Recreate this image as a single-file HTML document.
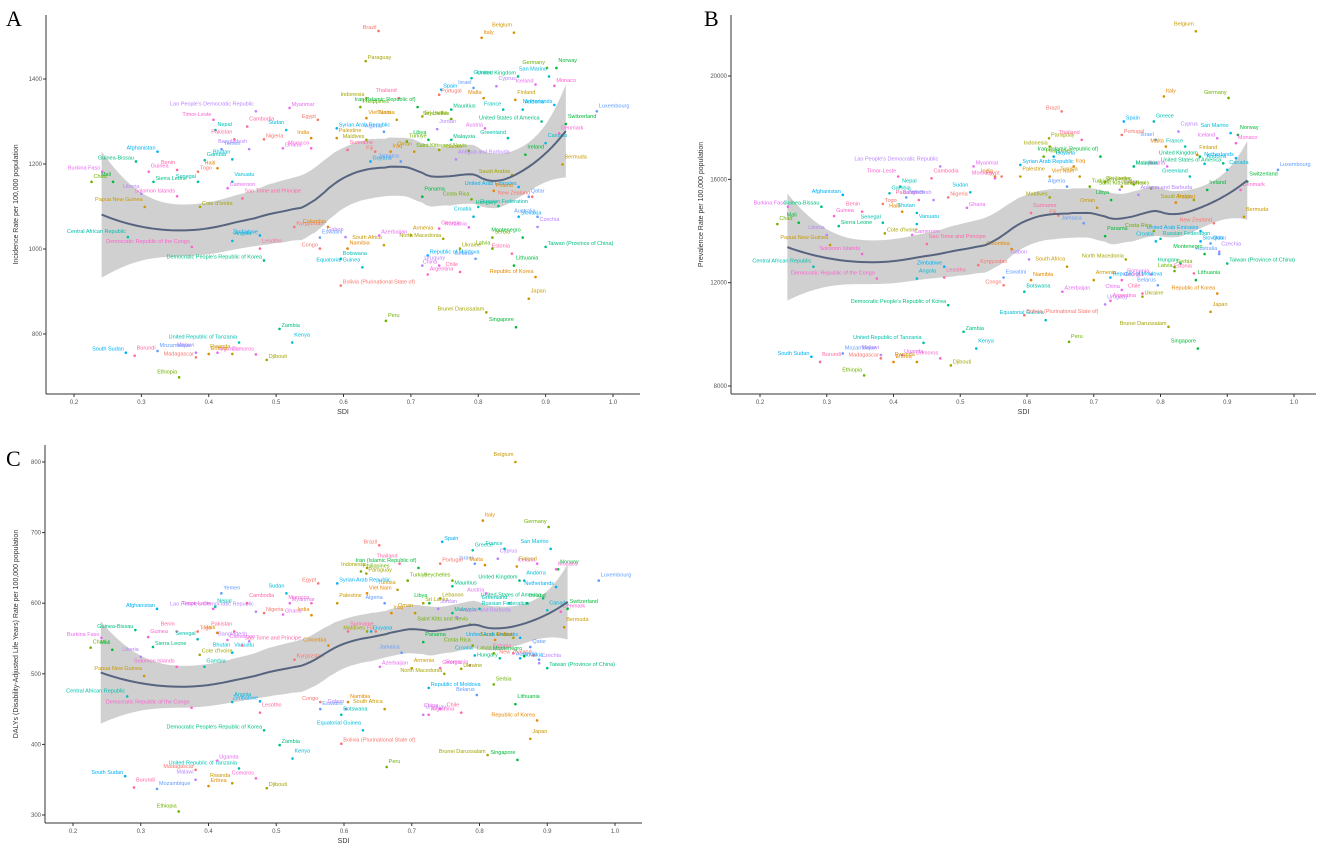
<!DOCTYPE html>
<html><head><meta charset="utf-8"><style>
body{margin:0;background:#fff;}
svg{display:block;font-family:"Liberation Sans",sans-serif;}
</style></head><body>
<svg id="chart" width="1325" height="855" viewBox="0 0 1325 855" xmlns="http://www.w3.org/2000/svg"></svg>
<script>
const countries=["Brazil","Italy","Belgium","Paraguay","Germany","Norway","United Kingdom","Greece","San Marino","Spain","Israel","Cyprus","Iceland","Monaco","Thailand","Portugal","Malta","Finland","Indonesia","Philippines","Iran (Islamic Republic of)","Mauritius","France","Andorra","Netherlands","Luxembourg","Lao People's Democratic Republic","Myanmar","Timor-Leste","Cambodia","Egypt","Viet Nam","Tunisia","Sri Lanka","Seychelles","Switzerland","United States of America","Nepal","Sudan","Syrian Arab Republic","Algeria","Jordan","Austria","Denmark","Pakistan","Nigeria","India","Palestine","Maldives","Turkiye","Libya","Malaysia","Greenland","Canada","Afghanistan","Yemen","Bangladesh","Ghana","Morocco","Suriname","Fiji","Iraq","Oman","Lebanon","Saint Kitts and Nevis","Ireland","Guinea-Bissau","Gambia","Bhutan","Guyana","Jamaica","Antigua and Barbuda","Burkina Faso","Guinea","Benin","Togo","Haiti","Bermuda","Saudi Arabia","Chad","Mali","Sierra Leone","Senegal","Vanuatu","United Arab Emirates","Qatar","Liberia","Cameroon","Solomon Islands","Sao Tome and Principe","New Zealand","Poland","Papua New Guinea","Cote d'Ivoire","Costa Rica","Panama","Hungary","Russian Federation","Croatia","Slovakia","Australia","Czechia","Romania","Georgia","Estonia","Kyrgyzstan","Colombia","Armenia","North Macedonia","Serbia","Montenegro","Taiwan (Province of China)","Central African Republic","Angola","Zimbabwe","Eswatini","Gabon","Azerbaijan","Democratic Republic of the Congo","Lesotho","Congo","Namibia","South Africa","Ukraine","Latvia","Lithuania","Democratic People's Republic of Korea","Botswana","Equatorial Guinea","Republic of Moldova","Belarus","Uruguay","China","Argentina","Chile","Bolivia (Plurinational State of)","Republic of Korea","Japan","Brunei Darussalam","Peru","Singapore","Zambia","United Republic of Tanzania","Kenya","South Sudan","Mozambique","Malawi","Uganda","Comoros","Burundi","Madagascar","Eritrea","Rwanda","Djibouti","Ethiopia"];
const sdi=[0.652,0.805,0.853,0.633,0.902,0.916,0.859,0.79,0.905,0.745,0.793,0.827,0.885,0.913,0.682,0.742,0.808,0.855,0.634,0.625,0.71,0.76,0.837,0.866,0.913,0.976,0.47,0.52,0.407,0.457,0.562,0.634,0.679,0.717,0.76,0.93,0.894,0.41,0.515,0.59,0.66,0.739,0.81,0.92,0.438,0.482,0.552,0.59,0.634,0.694,0.726,0.76,0.844,0.9,0.324,0.419,0.46,0.51,0.552,0.606,0.647,0.67,0.705,0.742,0.786,0.87,0.292,0.394,0.435,0.64,0.685,0.767,0.242,0.311,0.353,0.384,0.413,0.925,0.85,0.226,0.258,0.318,0.384,0.435,0.86,0.875,0.3,0.428,0.353,0.45,0.88,0.823,0.305,0.387,0.79,0.717,0.83,0.8,0.793,0.86,0.888,0.888,0.786,0.742,0.85,0.527,0.577,0.7,0.748,0.821,0.866,0.9,0.28,0.435,0.476,0.565,0.603,0.653,0.375,0.476,0.565,0.606,0.66,0.773,0.821,0.853,0.482,0.596,0.628,0.725,0.796,0.717,0.742,0.725,0.773,0.596,0.885,0.875,0.812,0.663,0.856,0.505,0.445,0.524,0.277,0.324,0.381,0.413,0.47,0.29,0.381,0.4,0.435,0.486,0.356];
const incidence=[1513,1497,1509,1442,1426,1426,1406,1402,1406,1375,1379,1383,1387,1384,1355,1363,1355,1351,1355,1334,1334,1328,1328,1328,1339,1324,1324,1332,1304,1288,1304,1308,1304,1312,1306,1294,1300,1280,1280,1284,1276,1282,1284,1272,1258,1258,1261,1261,1257,1253,1257,1257,1261,1249,1229,1235,1235,1237,1237,1233,1229,1229,1229,1233,1231,1222,1206,1209,1211,1206,1206,1211,1182,1182,1186,1182,1190,1199,1174,1158,1158,1158,1158,1158,1146,1123,1130,1143,1124,1119,1123,1137,1099,1099,1117,1123,1101,1099,1076,1076,1076,1052,1051,1048,989,1052,1052,1032,1024,1027,1027,1005,1028,1019,1032,1027,1028,1032,1005,1001,1001,1001,1009,1001,1001,961,973,977,957,985,977,961,961,940,946,914,934,883,851,831,816,812,780,780,756,760,756,756,752,749,745,753,753,739,698];
const prevalence=[18630,19210,21730,17590,19150,17720,16880,18240,17790,18240,17530,17850,17590,17400,17530,17720,17270,16950,17270,16880,16880,16500,17270,16600,16820,16370,16500,16500,16110,16040,16110,16110,16110,15900,15800,15910,16620,15720,15500,16560,15720,15600,16500,15590,15200,15300,16110,16110,15300,15720,15200,16500,16110,16370,15400,15300,15200,14900,16040,14700,14600,16500,14900,15720,15650,15590,14940,15460,14700,16880,14300,15400,14940,14580,14750,15050,14750,14550,15200,14270,14320,14190,14320,14270,14000,13520,13850,13850,13110,13500,14300,15100,13460,13910,14000,13800,12740,13700,13600,13600,13110,13200,12320,12100,12360,12680,13300,12100,12900,12600,13110,12740,12620,12160,12620,12200,12900,11650,12160,12200,11900,12100,12620,11460,12450,12100,11130,11650,10550,12200,11900,11160,11720,11300,11580,10740,11580,10870,10290,9710,9450,10100,9670,9450,9130,9260,9200,9200,9070,8930,9070,8930,8930,8800,8410];
const dalys=[682,717,800,642,708,648,632,675,677,687,656,663,656,648,656,656,654,652,650,645,650,624,677,632,623,632,588,600,592,600,628,614,619,600,632,592,607,595,614,628,600,592,614,588,560,586,583,600,560,632,600,586,600,590,592,614,546,584,600,560,560,586,586,607,570,600,562,510,530,560,530,580,551,552,560,560,558,566,551,537,534,538,549,530,551,538,524,548,510,540,526,548,497,527,540,545,522,592,526,522,520,515,512,508,529,520,540,508,500,485,525,508,468,460,461,450,450,510,452,445,460,460,450,507,529,457,420,442,420,480,470,442,450,442,445,401,434,408,385,368,378,399,366,380,355,337,350,377,352,339,364,341,345,338,305];

const svg=document.getElementById('chart');
const NS='http://www.w3.org/2000/svg';
const palette=["#F8766D","#E58700","#C99800","#A3A500","#6BB100","#00BA38","#00BF7D","#00C0AF","#00BCD8","#00B0F6","#619CFF","#B983FF","#E76BF3","#FD61D1","#FF67A4"];
function mk(tag,attrs,parent){const e=document.createElementNS(NS,tag);for(const k in attrs)e.setAttribute(k,attrs[k]);(parent||svg).appendChild(e);return e;}

function inv3(A){
  const n=3;const M=A.map((row,i)=>row.concat([0,1,2].map(j=>i===j?1:0)));
  for(let c=0;c<n;c++){let piv=c;for(let r=c+1;r<n;r++)if(Math.abs(M[r][c])>Math.abs(M[piv][c]))piv=r;[M[c],M[piv]]=[M[piv],M[c]];const d=M[c][c];for(let j=0;j<2*n;j++)M[c][j]/=d;for(let r=0;r<n;r++)if(r!==c){const f=M[r][c];for(let j=0;j<2*n;j++)M[r][j]-=f*M[c][j];}}
  return M.map(r=>r.slice(n));
}
function loessAt(xs,ys,x0,span){
  const n=xs.length,q=Math.floor(span*n);
  const d=xs.map(x=>Math.abs(x-x0));const h=d.slice().sort((a,b)=>a-b)[q-1]*1.0001;
  const w=d.map(v=>{const u=v/h;return u<1?(1-u**3)**3:0;});
  const A=[[0,0,0],[0,0,0],[0,0,0]];
  for(let k=0;k<n;k++){if(!w[k])continue;const t=xs[k]-x0;const r=[1,t,t*t];for(let i=0;i<3;i++)for(let j=0;j<3;j++)A[i][j]+=w[k]*r[i]*r[j];}
  const I=inv3(A);
  const l=new Array(n).fill(0);let f=0;
  for(let k=0;k<n;k++){if(!w[k])continue;const t=xs[k]-x0;const r=[1,t,t*t];const c=I[0][0]*r[0]+I[0][1]*r[1]+I[0][2]*r[2];l[k]=w[k]*c;f+=l[k]*ys[k];}
  return [f,l];
}
function loessFit(xs,ys){
  const span=0.5;let rss=0,tr=0;
  for(let k=0;k<xs.length;k++){const [f,l]=loessAt(xs,ys,xs[k],span);rss+=(ys[k]-f)**2;tr+=l[k];}
  const sigma=Math.sqrt(rss/(xs.length-tr));
  return x=>{const [f,l]=loessAt(xs,ys,x,span);const s=Math.sqrt(l.reduce((a,v)=>a+v*v,0));return [f,1.97*sigma*s];};
}

function panel(cfg){
  const g=mk('g',{});
  
  
  const sx=v=>cfg.x0+(v-0.2)/0.8*(cfg.x1-cfg.x0);
  const sy=v=>cfg.yTopPx+(cfg.yTopVal-v)/(cfg.yTopVal-cfg.yBotVal)*(cfg.yBotPx-cfg.yTopPx);
  const vals=cfg.values;
  const fit=loessFit(sdi,vals);
  const xmin=Math.min(...sdi)+0.015,xmax=0.93;const up=[],lo=[],mid=[];
  for(let i=0;i<=100;i++){const x=xmin+(xmax-xmin)*i/100;const [f,e]=fit(x);mid.push([sx(x),sy(f)]);up.push([sx(x),sy(f+e)]);lo.push([sx(x),sy(f-e)]);}
  const rib=mk('path',{d:'M'+up.map(p=>p.join(',')).join('L')+'L'+lo.reverse().map(p=>p.join(',')).join('L')+'Z',fill:'#c4c4c4','fill-opacity':0.8},g);
  
  
  for(let i=0;i<countries.length;i++){
    const c=palette[i%palette.length];const px=sx(sdi[i]),py=sy(vals[i]);
    const dot=mk('circle',{cx:px,cy:py,r:1.3,fill:c},g);
    
    
    const t=mk('text',{x:px+(i%2?2:-2),y:py-(i%3)*2-2,'font-size':5.5,fill:c,'text-anchor':i%2?'start':'end'},g);
    t.textContent=countries[i];
    
    
  }
  const ln=mk('path',{d:'M'+mid.map(p=>p.join(',')).join('L'),fill:'none',stroke:'#56647f','stroke-width':2},g);
  
  
  const ya=mk('line',{x1:cfg.ax,y1:cfg.axTop,x2:cfg.ax,y2:cfg.axY,stroke:'#333','stroke-width':1},g);
  
  
  const xa=mk('line',{x1:cfg.ax,y1:cfg.axY,x2:cfg.axRight,y2:cfg.axY,stroke:'#333','stroke-width':1},g);
  
  
  const xt=[0.2,0.3,0.4,0.5,0.6,0.7,0.8,0.9,1.0];
  xt.forEach(v=>{mk('line',{x1:sx(v),x2:sx(v),y1:cfg.axY,y2:cfg.axY+3,stroke:'#333'},g);const t=mk('text',{x:sx(v),y:cfg.axY+10,'font-size':6,fill:'#555','text-anchor':'middle'},g);t.textContent=v.toFixed(1);});
  cfg.yt.forEach(v=>{mk('line',{x1:cfg.ax-3,x2:cfg.ax,y1:sy(v),y2:sy(v),stroke:'#333'},g);const t=mk('text',{x:cfg.ax-4,y:sy(v)+2,'font-size':6,fill:'#555','text-anchor':'end'},g);t.textContent=v;});
  const xl=mk('text',{x:(cfg.ax+cfg.axRight)/2,y:cfg.axY+20,'font-size':7,fill:'#333','text-anchor':'middle'},g);
  xl.textContent='SDI';
  
  
  const cy=(cfg.axTop+cfg.axY)/2;
  const yl=mk('text',{x:cfg.ylx,y:cy,'font-size':7,fill:'#333','text-anchor':'middle',transform:`rotate(-90 ${cfg.ylx} ${cy})`},g);
  yl.textContent=cfg.ytitle;
  
  
  const L=mk('text',{x:cfg.lx,y:cfg.ly,'font-size':22,'font-family':'Liberation Serif, serif',fill:'#000'},g);
  L.textContent=cfg.letter;
  
  
}
panel({name:'panel-a-incidence',values:incidence,x0:74,x1:613,yTopVal:1400,yTopPx:79,yBotVal:800,yBotPx:334,ax:46,axTop:15,axY:394,axRight:640,yt:[800,1000,1200,1400],ytitle:'Incidence Rate per 100,000 population',ylx:18,letter:'A',lx:6,ly:26});
panel({name:'panel-b-prevalence',values:prevalence,x0:760,x1:1294,yTopVal:20000,yTopPx:76,yBotVal:8000,yBotPx:386,ax:731,axTop:15,axY:394,axRight:1316,yt:[8000,12000,16000,20000],ytitle:'Prevalence Rate per 100,000 population',ylx:703,letter:'B',lx:704,ly:26});
panel({name:'panel-c-dalys',values:dalys,x0:73,x1:615,yTopVal:800,yTopPx:462,yBotVal:300,yBotPx:815,ax:45,axTop:445,axY:823,axRight:642,yt:[300,400,500,600,700,800],ytitle:"DALYs (Disability-Adjusted Life Years) Rate per 100,000 population",ylx:18,letter:'C',lx:6,ly:466});
</script>
</body></html>
